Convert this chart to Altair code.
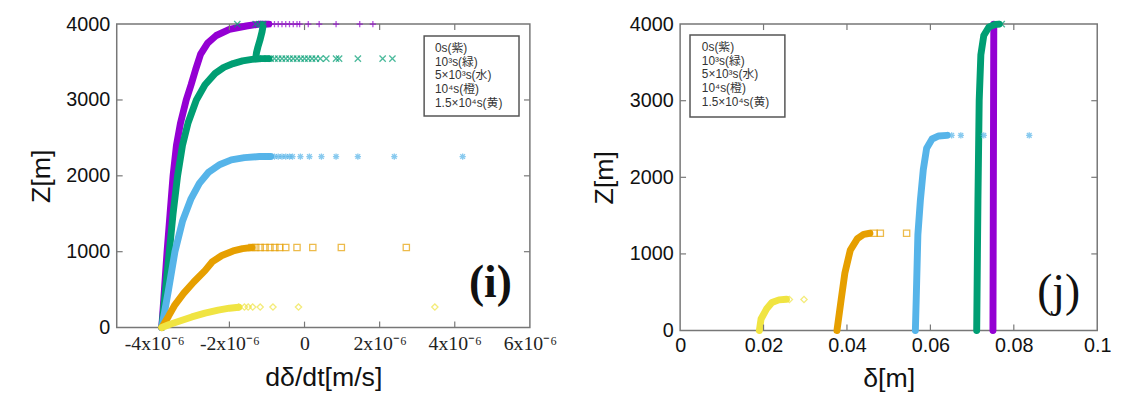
import altair as alt
import pandas as pd

# ---------------- panel (i): dδ/dt [m/s] (values in 1e-6 m/s) vs Z [m] ----------------
i_purple_x = [-3.80, -3.73, -3.66, -3.58, -3.50, -3.41, -3.30, -3.15, -3.02, -2.90, -2.77, -2.58, -2.35, -2.00, -1.55, -1.20, -0.95]
i_purple_z = [0, 500, 1000, 1500, 2000, 2400, 2700, 3000, 3200, 3400, 3600, 3750, 3850, 3930, 3975, 4000, 4000]
i_purple_tail_x = [-1.0, -0.9, -0.8, -0.7, -0.6, -0.5, -0.4, -0.3, -0.2, -0.13, 0.1, 0.39, 0.84, 1.47, 1.82]
i_purple_tail_z = 4000

i_green_x = [-3.80, -3.70, -3.60, -3.50, -3.38, -3.25, -3.10, -2.88, -2.65, -2.38, -2.15, -1.90, -1.65, -1.40, -1.15, -0.95]
i_green_z = [0, 500, 1000, 1500, 2000, 2400, 2700, 3000, 3200, 3350, 3430, 3480, 3515, 3535, 3545, 3545]
i_green_branch_x = [-1.30, -1.28, -1.24, -1.18, -1.13, -1.10]
i_green_branch_z = [3550, 3620, 3700, 3800, 3900, 3990]
i_green_tail_x = [-1.1, -1.0, -0.9, -0.8, -0.7, -0.6, -0.5, -0.4, -0.3, -0.2, -0.1, 0.0, 0.1, 0.2, 0.3, 0.42, 0.58, 0.84, 0.92, 1.42, 2.08, 2.34]
i_green_tail_z = 3545
i_green_top_x = [-1.79, -1.3, -1.2, -1.1]
i_green_top_z = 4000

i_blue_x = [-3.80, -3.62, -3.45, -3.25, -3.02, -2.80, -2.55, -2.25, -1.95, -1.60, -1.20, -0.90]
i_blue_z = [0, 500, 1000, 1400, 1700, 1900, 2050, 2150, 2210, 2240, 2254, 2254]
i_blue_tail_x = [-1.0, -0.9, -0.8, -0.7, -0.6, -0.5, -0.4, -0.32, -0.11, 0.13, 0.45, 0.84, 1.42, 2.39, 4.21]
i_blue_tail_z = 2254

i_orange_x = [-3.80, -3.62, -3.45, -3.22, -2.95, -2.65, -2.45, -2.20, -1.90, -1.65, -1.40]
i_orange_z = [0, 150, 300, 450, 600, 750, 870, 950, 1010, 1040, 1055]
i_orange_tail_x = [-1.4, -1.3, -1.18, -1.05, -0.92, -0.79, -0.66, -0.50, -0.20, 0.22, 0.98, 2.71]
i_orange_tail_z = 1055

i_yellow_x = [-3.80, -3.60, -3.30, -3.00, -2.65, -2.30, -2.00, -1.75]
i_yellow_z = [0, 40, 90, 140, 190, 230, 255, 268]
i_yellow_tail_x = [-1.75, -1.6, -1.5, -1.38, -1.18, -0.84, -0.16, 3.47]
i_yellow_tail_z = 270

i_x_ticks = [-4e-6, -2e-6, 0, 2e-6, 4e-6, 6e-6]

# ---------------- panel (j): δ [m] vs Z [m] ----------------
j_purple_x = [0.0750, 0.0752]
j_purple_z = [0, 4000]

j_green_x = [0.0711, 0.0714, 0.0717, 0.0721, 0.0728, 0.0740, 0.0755, 0.0765]
j_green_z = [0, 1700, 3000, 3600, 3850, 3960, 3995, 4000]
j_green_tail_x = [0.0771]
j_green_tail_z = 4000

j_blue_x = [0.0564, 0.0566, 0.0570, 0.0576, 0.0583, 0.0591, 0.0604, 0.0620, 0.0640]
j_blue_z = [0, 400, 1250, 1700, 2100, 2380, 2500, 2540, 2548]
j_blue_tail_x = [0.0651, 0.0673, 0.0728, 0.0837]
j_blue_tail_z = 2548

j_orange_x = [0.0376, 0.0386, 0.0395, 0.0408, 0.0425, 0.0440, 0.0455]
j_orange_z = [0, 400, 750, 1050, 1200, 1255, 1270]
j_orange_tail_x = [0.0465, 0.0480, 0.0543]
j_orange_tail_z = 1270

j_yellow_x = [0.0190, 0.0194, 0.0207, 0.0220, 0.0237, 0.0255]
j_yellow_z = [0, 150, 280, 365, 400, 408]
j_yellow_tail_x = [0.0262, 0.0297]
j_yellow_tail_z = 405

j_x_ticks = [0, 0.02, 0.04, 0.06, 0.08, 0.1]
z_ticks = [0, 1000, 2000, 3000, 4000]

legend_lines = ["0s(紫)", "10³s(緑)", "5×10³s(水)", "10⁴s(橙)", "1.5×10⁴s(黄)"]

PURPLE, GREEN, BLUE, ORANGE, YELLOW = "#9400D3", "#009E73", "#56B4E9", "#E69F00", "#F0E442"
PLUS = "M-1,0L1,0M0,-1L0,1"
CROSS = "M-1,-1L1,1M-1,1L1,-1"
STAR = "M-1,0L1,0M0,-1L0,1M-0.75,-0.75L0.75,0.75M-0.75,0.75L0.75,-0.75"

SANS = "Liberation Sans"
SERIF = "Liberation Serif"
LEGEND_FONT = "Liberation Sans, Noto Sans CJK JP"


def curve_df(xs, zs, mult=1.0):
    return pd.DataFrame({"x": [v * mult for v in xs], "z": zs, "i": list(range(len(xs)))})


def pts_df(xs, z, mult=1.0):
    zz = z if isinstance(z, list) else [z] * len(xs)
    return pd.DataFrame({"x": [v * mult for v in xs], "z": zz})


def panel(W, H, xenc, yenc, curves, tails, xticks, legend_box, legend_text_pos, label, label_pos, label_bold):
    layers = []
    for df, color in curves:
        layers.append(
            alt.Chart(df).mark_line(color=color, strokeWidth=7, strokeCap="round", strokeJoin="round")
            .encode(x=xenc, y=yenc, order="i:Q")
        )
    for df, color, shape in tails:
        layers.append(
            alt.Chart(df).mark_point(shape=shape, color=color, size=40, strokeWidth=1.3, opacity=0.7, filled=False)
            .encode(x=xenc, y=yenc)
        )
    xt = pd.DataFrame({"x": xticks[1:-1]})
    zt = pd.DataFrame({"z": z_ticks[1:-1]})
    tick_style = dict(color="#777", strokeWidth=1.2)
    layers += [
        alt.Chart(xt).mark_rule(**tick_style).encode(x=xenc, y=alt.value(H), y2=alt.value(H - 6)),
        alt.Chart(xt).mark_rule(**tick_style).encode(x=xenc, y=alt.value(0), y2=alt.value(6)),
        alt.Chart(zt).mark_rule(**tick_style).encode(y=yenc, x=alt.value(0), x2=alt.value(6)),
        alt.Chart(zt).mark_rule(**tick_style).encode(y=yenc, x=alt.value(W), x2=alt.value(W - 6)),
    ]
    one = pd.DataFrame({"k": [0]})
    bx0, bx1, by0, by1 = legend_box
    layers.append(
        alt.Chart(one).mark_rect(fill="white", stroke="#555", strokeWidth=1.5)
        .encode(x=alt.value(bx0), x2=alt.value(bx1), y=alt.value(by0), y2=alt.value(by1))
    )
    for k, line in enumerate(legend_lines):
        layers.append(
            alt.Chart(one).mark_text(align="left", baseline="middle", font=LEGEND_FONT, fontSize=12, color="#333")
            .encode(x=alt.value(legend_text_pos[0]), y=alt.value(legend_text_pos[1] + 14 * k),
                    text=alt.value(line))
        )
    layers.append(
        alt.Chart(one).mark_text(align="center", baseline="middle", font=SERIF, fontSize=46,
                                 fontWeight="bold" if label_bold else "normal", color="#111")
        .encode(x=alt.value(label_pos[0]), y=alt.value(label_pos[1]), text=alt.value(label))
    )
    return alt.layer(*layers).properties(width=W, height=H)


def yaxis(H):
    return alt.Axis(values=z_ticks, format="d", labelFont=SANS, labelFontSize=20, labelColor="#111",
                    labelPadding=7, ticks=False, domain=False, grid=False, title="Z[m]", titleFont=SANS,
                    titleFontSize=27, titleFontWeight="normal", titleColor="#111", titleAngle=270,
                    titleBaseline="bottom", titleAlign="center", titleX=-62, titleY=H / 2)


# ---- left panel
WL, HL = 418, 307
x_i = alt.X("x:Q", scale=alt.Scale(domain=[-5e-6, 6e-6], nice=False, zero=False),
            axis=alt.Axis(values=i_x_ticks,
                          labelExpr="datum.value == 0 ? '0' : round(datum.value*1e6) + 'x10⁻⁶'",
                          labelFont=SERIF, labelFontSize=20, labelColor="#222", labelPadding=6,
                          labelFlush=False, labelOverlap=False,
                          ticks=False, domain=False, grid=False, title="dδ/dt[m/s]", titleFont=SANS,
                          titleFontSize=27, titleFontWeight="normal", titleColor="#111",
                          titleBaseline="top", titleY=38))
y_i = alt.Y("z:Q", scale=alt.Scale(domain=[0, 4000], nice=False), axis=yaxis(HL))

M = 1e-6
left = panel(
    WL, HL, x_i, y_i,
    curves=[
        (curve_df(i_purple_x, i_purple_z, M), PURPLE),
        (curve_df(i_green_x, i_green_z, M), GREEN),
        (curve_df(i_green_branch_x, i_green_branch_z, M), GREEN),
        (curve_df(i_blue_x, i_blue_z, M), BLUE),
        (curve_df(i_orange_x, i_orange_z, M), ORANGE),
        (curve_df(i_yellow_x, i_yellow_z, M), YELLOW),
    ],
    tails=[
        (pts_df(i_purple_tail_x, i_purple_tail_z, M), PURPLE, PLUS),
        (pts_df(i_green_tail_x, i_green_tail_z, M), GREEN, CROSS),
        (pts_df(i_green_top_x, i_green_top_z, M), GREEN, CROSS),
        (pts_df(i_blue_tail_x, i_blue_tail_z, M), BLUE, STAR),
        (pts_df(i_orange_tail_x, i_orange_tail_z, M), ORANGE, "square"),
        (pts_df(i_yellow_tail_x, i_yellow_tail_z, M), YELLOW, "diamond"),
    ],
    xticks=i_x_ticks,
    legend_box=(311, 407, 12, 93),
    legend_text_pos=(322, 24),
    label="(i)", label_pos=(378, 262), label_bold=True,
)

# ---- right panel
WR, HR = 422, 310
x_j = alt.X("x:Q", scale=alt.Scale(domain=[0, 0.1], nice=False, zero=False),
            axis=alt.Axis(values=j_x_ticks, format="~g", labelFont=SANS, labelFontSize=20, labelColor="#111",
                          labelPadding=5, labelFlush=False, labelOverlap=False,
                          ticks=False, domain=False, grid=False, title="δ[m]", titleFont=SANS,
                          titleFontSize=27, titleFontWeight="normal", titleColor="#111",
                          titleBaseline="top", titleY=36))
y_j = alt.Y("z:Q", scale=alt.Scale(domain=[0, 4000], nice=False), axis=yaxis(HR))

right = panel(
    WR, HR, x_j, y_j,
    curves=[
        (curve_df(j_purple_x, j_purple_z), PURPLE),
        (curve_df(j_green_x, j_green_z), GREEN),
        (curve_df(j_blue_x, j_blue_z), BLUE),
        (curve_df(j_orange_x, j_orange_z), ORANGE),
        (curve_df(j_yellow_x, j_yellow_z), YELLOW),
    ],
    tails=[
        (pts_df(j_green_tail_x, j_green_tail_z), GREEN, CROSS),
        (pts_df(j_blue_tail_x, j_blue_tail_z), BLUE, STAR),
        (pts_df(j_orange_tail_x, j_orange_tail_z), ORANGE, "square"),
        (pts_df(j_yellow_tail_x, j_yellow_tail_z), YELLOW, "diamond"),
    ],
    xticks=j_x_ticks,
    legend_box=(10, 106, 11, 94),
    legend_text_pos=(22, 23),
    label="(j)", label_pos=(383, 271), label_bold=False,
)

chart = (
    alt.hconcat(left, right, spacing=152, bounds="flush")
    .resolve_scale(x="independent", y="independent")
    .properties(padding={"left": 19, "top": 3, "right": 5, "bottom": 5}, background="white")
    .configure_view(stroke="#777", strokeWidth=1.5)
)

chart.save("out.html", embed_options={"renderer": "svg", "actions": False})
